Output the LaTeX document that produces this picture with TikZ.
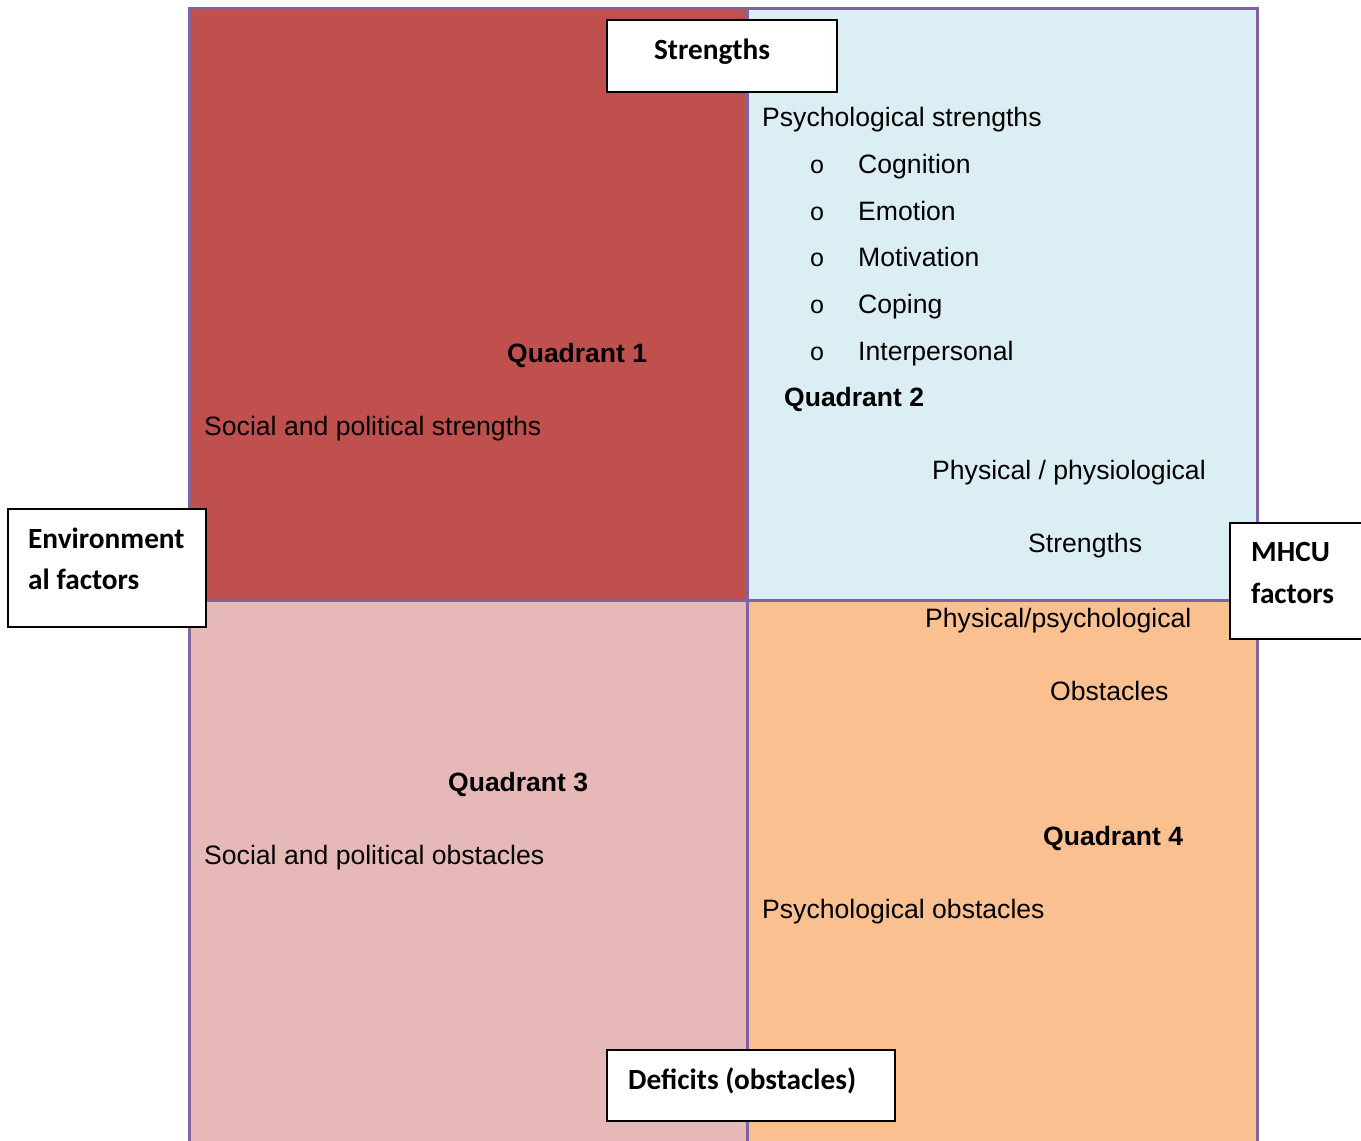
\documentclass[tikz,border=0pt]{standalone}
\usepackage{fontspec}
\setmainfont{Liberation Sans}
\newfontfamily\labelfont{Carlito}
\newfontfamily\bulletfont{Liberation Mono}
\definecolor{qone}{HTML}{C0504D}
\definecolor{qtwo}{HTML}{DBEEF4}
\definecolor{qthree}{HTML}{E6B9B8}
\definecolor{qfour}{HTML}{FAC090}
\definecolor{framepurple}{HTML}{8064A2}
\begin{document}
\begin{tikzpicture}[x=1pt,y=-1pt,
  quad/.style={draw=none,inner sep=0pt,outer sep=0pt},
  body/.style={anchor=base west,inner sep=0pt,font=\fontsize{26.6}{30}\selectfont},
  heading/.style={anchor=base west,inner sep=0pt,font=\fontsize{26.5}{30}\selectfont\bfseries},
  bul/.style={anchor=base,inner sep=0pt,font=\fontsize{25}{30}\bulletfont},
  tagbox/.style={draw=black,line width=2pt,fill=white,inner sep=0pt,outer sep=0pt},
  tagtext/.style={anchor=base west,inner sep=0pt,font=\fontsize{29.3}{34}\labelfont\bfseries}]
\useasboundingbox (0,0) rectangle (1361,1141);
\clip (0,0) rectangle (1361,1141);
% quadrant fills
\fill[qone]   (189.5,8.5) rectangle (747.5,600.5);
\fill[qtwo]   (747.5,8.5) rectangle (1257,600.5);
\fill[qthree] (189.5,600.5) rectangle (747.5,1150);
\fill[qfour]  (747.5,600.5) rectangle (1257,1150);
\node[quad,minimum width=558pt,minimum height=592pt] (q1) at (468.5,304.5) {};
\node[quad,minimum width=509.5pt,minimum height=592pt] (q2) at (1002.25,304.5) {};
\node[quad,minimum width=558pt,minimum height=549.5pt] (q3) at (468.5,875.25) {};
\node[quad,minimum width=509.5pt,minimum height=549.5pt] (q4) at (1002.25,875.25) {};
% frame and dividers
\draw[framepurple,line width=3pt] (189.5,1150) -- (189.5,8.5) -- (1257,8.5) -- (1257,1150);
\draw[framepurple,line width=3pt] (747.5,8.5) -- (747.5,1150);
\draw[framepurple,line width=3pt] (189.5,600.5) -- (1257,600.5);

% quadrant 1
\node[heading] (h1) at (507,362) {Quadrant 1};
\node[body] (t1) at (204,435) {Social and political strengths};
% quadrant 2
\node[body] (t2) at (762,126) {Psychological strengths};
\foreach \name/\txt/\yy in {b1/Cognition/173,b2/Emotion/220,b3/Motivation/266,b4/Coping/313,b5/Interpersonal/360}{
  \node[bul] (\name o) at (817,\yy) {o};
  \node[body] (\name) at (858,\yy) {\txt};
}
\node[heading] (h2) at (784,406) {Quadrant 2};
\node[body] (t2a) at (932,479) {Physical / physiological};
\node[body] (t2b) at (1028,552) {Strengths};
% quadrant 3
\node[heading] (h3) at (448,791) {Quadrant 3};
\node[body] (t3) at (204,864) {Social and political obstacles};
% quadrant 4
\node[body] (t4a) at (925,627) {Physical/psychological};
\node[body] (t4b) at (1050,700) {Obstacles};
\node[heading] (h4) at (1043,845) {Quadrant 4};
\node[body] (t4) at (762,918) {Psychological obstacles};

% axis label boxes
\node[tagbox,minimum width=230pt,minimum height=72pt] (strengths) at (722,56) {};
\node[tagtext,anchor=base] (strengthsT) at (712,59) {Strengths};
\node[tagbox,minimum width=198pt,minimum height=118pt] (env) at (107,568) {};
\node[tagtext] (envA) at (28,548) {Environment};
\node[tagtext] (envB) at (28,589) {al factors};
\node[tagbox,minimum width=140pt,minimum height=116pt] (mhcu) at (1300,581) {};
\node[tagtext] (mhcuA) at (1251,561) {MHCU};
\node[tagtext] (mhcuB) at (1251,603) {factors};
\node[tagbox,minimum width=288pt,minimum height=71pt] (deficits) at (751,1085.5) {};
\node[tagtext] (deficitsT) at (628,1089) {Deficits (obstacles)};
\end{tikzpicture}
\end{document}
